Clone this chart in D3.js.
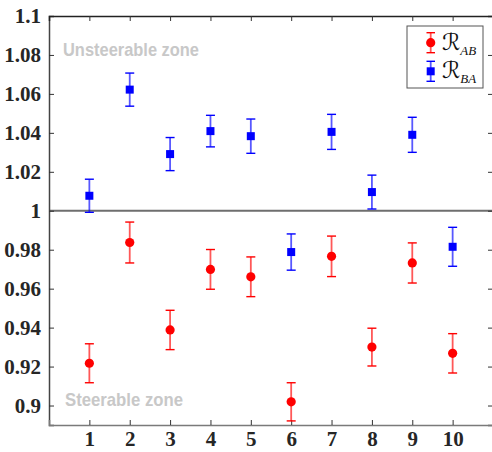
<!DOCTYPE html>
<html>
<head>
<meta charset="utf-8">
<script src="https://cdn.jsdelivr.net/npm/d3@7"></script>
<style>
  body { margin: 0; background: #fff; }
  svg { display: block; }
</style>
</head>
<body>
<div id="chart"></div>
<script>
// data
const cases = [1, 2, 3, 4, 5, 6, 7, 8, 9, 10];
const rAB = [0.9217, 0.9837, 0.9388, 0.9699, 0.9661, 0.9019, 0.9766, 0.9300, 0.9732, 0.9268];
const rABerr = [0.0100, 0.0105, 0.0101, 0.0102, 0.0102, 0.0098, 0.0104, 0.0097, 0.0103, 0.0101];
const rBA = [1.0077, 1.0622, 1.0291, 1.0409, 1.0383, 0.9788, 1.0405, 1.0096, 1.0390, 0.9815];
const rBAerr = [0.0085, 0.0085, 0.0085, 0.0081, 0.0088, 0.0093, 0.0090, 0.0087, 0.0090, 0.0100];
const yTicks = [0.9, 0.92, 0.94, 0.96, 0.98, 1, 1.02, 1.04, 1.06, 1.08, 1.1];

(function () {
const W = 492, H = 452;
const M = { left: 49, top: 16, right: -1, bottom: 27 };
const innerW = W - M.left - M.right;
const innerH = H - M.top - M.bottom;

const svg = d3.select('#chart').append('svg')
    .attr('width', W)
    .attr('height', H);

const g = svg.append('g')
    .attr('transform', `translate(${M.left},${M.top})`);

const x = d3.scaleLinear().domain([0, 11]).range([0, innerW]);
const y = d3.scaleLinear().domain([0.89, 1.1]).range([innerH, 0]);

// zone labels
g.append('text')
    .attr('x', 14).attr('y', 40)
    .attr('textLength', 136).attr('lengthAdjust', 'spacingAndGlyphs')
    .attr('font-family', 'Liberation Sans')
    .attr('font-weight', 'bold').attr('font-size', 19)
    .attr('fill', '#c8c8c8')
    .text('Unsteerable zone');

g.append('text')
    .attr('x', 16).attr('y', 390)
    .attr('textLength', 118).attr('lengthAdjust', 'spacingAndGlyphs')
    .attr('font-family', 'Liberation Sans')
    .attr('font-weight', 'bold').attr('font-size', 19)
    .attr('fill', '#c8c8c8')
    .text('Steerable zone');

// separator at 1
g.append('line')
    .attr('x1', 0).attr('x2', innerW)
    .attr('y1', y(1)).attr('y2', y(1))
    .attr('stroke', '#6e6e6e').attr('stroke-width', 2);

// axes
const axLeft = g.append('g')
    .call(d3.axisLeft(y).tickValues(yTicks).tickSize(-5).tickPadding(8).tickFormat(d3.format('~g')));
const axRight = g.append('g')
    .attr('transform', `translate(${innerW},0)`)
    .call(d3.axisRight(y).tickValues(yTicks).tickSize(-5).tickFormat(''));
const axBottom = g.append('g')
    .attr('transform', `translate(0,${innerH})`)
    .call(d3.axisBottom(x).tickValues(cases).tickSize(-5).tickPadding(6));
const axTop = g.append('g')
    .call(d3.axisTop(x).tickValues(cases).tickSize(-5).tickFormat(''));

[axLeft, axRight, axBottom, axTop].forEach(a => {
    a.attr('font-family', 'Liberation Serif')
        .attr('font-weight', 'bold')
        .attr('font-size', 21);
    a.select('.domain').attr('stroke', '#444').attr('stroke-width', 1.5);
    a.selectAll('.tick line').attr('stroke', '#333');
    a.selectAll('.tick text').attr('fill', '#262626');
});
axBottom.select('.domain').attr('stroke', '#7a7a7a');
axTop.select('.domain').attr('stroke', '#222');

// error bars + markers
function drawSeries(vals, errs, color, shape) {
    const s = g.append('g');
    const pts = cases.map((c, i) => ({ c, v: vals[i], e: errs[i] }));
    const grp = s.selectAll('g').data(pts).join('g');
    grp.append('line')
        .attr('x1', d => x(d.c)).attr('x2', d => x(d.c))
        .attr('y1', d => y(d.v + d.e)).attr('y2', d => y(d.v - d.e))
        .attr('stroke', color).attr('stroke-width', 1.8).attr('opacity', 0.65);
    [1, -1].forEach(sg => {
        grp.append('line')
            .attr('x1', d => x(d.c) - 4.5).attr('x2', d => x(d.c) + 4.5)
            .attr('y1', d => y(d.v + sg * d.e)).attr('y2', d => y(d.v + sg * d.e))
            .attr('stroke', color).attr('stroke-width', 1.4);
    });
    if (shape === 'circle') {
        grp.append('circle')
            .attr('cx', d => x(d.c)).attr('cy', d => y(d.v))
            .attr('r', 4.6).attr('fill', color);
    } else {
        grp.append('rect')
            .attr('x', d => x(d.c) - 4).attr('y', d => y(d.v) - 4)
            .attr('width', 8).attr('height', 8).attr('fill', color);
    }
}
drawSeries(rAB, rABerr, '#ff0000', 'circle');
drawSeries(rBA, rBAerr, '#0000ff', 'square');

// legend
const lg = svg.append('g').attr('transform', 'translate(407,26)');
lg.append('rect')
    .attr('width', 76).attr('height', 62)
    .attr('fill', '#fff').attr('stroke', '#555').attr('stroke-width', 1);

const legendItems = [
    { sub: 'AB', color: '#ff0000', shape: 'circle', cy: 16.7 },
    { sub: 'BA', color: '#0000ff', shape: 'square', cy: 45.3 }
];
const li = lg.selectAll('g.item').data(legendItems).join('g').attr('class', 'item');
li.append('line')
    .attr('x1', 23.7).attr('x2', 23.7)
    .attr('y1', d => d.cy - 10).attr('y2', d => d.cy + 10)
    .attr('stroke', d => d.color).attr('stroke-width', 1.8).attr('opacity', 0.65);
[-10, 10].forEach(o => {
    li.append('line')
        .attr('x1', 19.5).attr('x2', 28)
        .attr('y1', d => d.cy + o).attr('y2', d => d.cy + o)
        .attr('stroke', d => d.color).attr('stroke-width', 1.4);
});
li.filter(d => d.shape === 'circle').append('circle')
    .attr('cx', 23.7).attr('cy', d => d.cy).attr('r', 4.6).attr('fill', d => d.color);
li.filter(d => d.shape === 'square').append('rect')
    .attr('x', 19.7).attr('y', d => d.cy - 4).attr('width', 8).attr('height', 8).attr('fill', d => d.color);
const lt = li.append('text')
    .attr('x', 35).attr('y', d => d.cy + 7)
    .attr('fill', '#111');
lt.append('tspan').attr('font-family', 'DejaVu Sans').attr('font-size', 23).text('\u211B');
lt.append('tspan').attr('dy', 5).attr('font-size', 13).attr('font-style', 'italic')
    .attr('font-family', 'Liberation Serif')
    .text(d => d.sub);
})();
</script>
</body>
</html>
